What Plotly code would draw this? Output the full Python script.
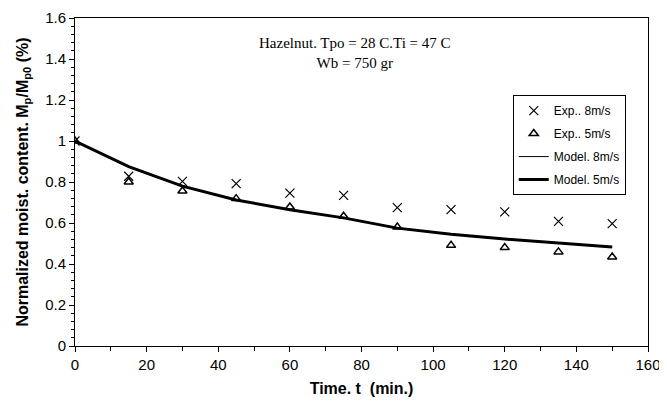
import plotly.graph_objects as go

t_exp = [0, 15, 30, 45, 60, 75, 90, 105, 120, 135, 150]
exp_8 = [1.0, 0.828, 0.803, 0.792, 0.746, 0.735, 0.675, 0.665, 0.654, 0.608, 0.597]
exp_5 = [1.0, 0.80, 0.756, 0.719, 0.678, 0.633, 0.58, 0.491, 0.48, 0.459, 0.434]

t_model = [0, 15, 30, 45, 60, 75, 90, 105, 120, 135, 150]
model_8 = [1.0, 0.872, 0.778, 0.712, 0.664, 0.626, 0.577, 0.545, 0.522, 0.503, 0.483]
model_5 = [1.0, 0.875, 0.78, 0.712, 0.665, 0.625, 0.575, 0.545, 0.522, 0.503, 0.483]

fig = go.Figure()
fig.add_trace(go.Scatter(x=t_exp, y=exp_8, mode="markers", name="Exp.. 8m/s",
                         legendgroup="a",
                         marker=dict(symbol="x-thin-open", size=9, color="black",
                                     line=dict(width=1.2, color="black"))))
fig.add_trace(go.Scatter(x=t_exp, y=exp_5, mode="markers", name="Exp.. 5m/s",
                         legendgroup="b",
                         marker=dict(symbol="triangle-up-open", size=8, color="black",
                                     line=dict(width=1.5, color="black"))))
fig.add_trace(go.Scatter(x=t_model, y=model_8, mode="lines", name="Model. 8m/s",
                         legendgroup="c",
                         line=dict(color="black", width=1)))
fig.add_trace(go.Scatter(x=t_model, y=model_5, mode="lines", name="Model. 5m/s",
                         legendgroup="d",
                         line=dict(color="black", width=3)))

fig.add_annotation(x=0.489, y=0.893, xref="paper", yref="paper",
                   xanchor="center", yanchor="middle",
                   text="Hazelnut. Tpo = 28 C.Ti = 47 C<br>Wb = 750 gr",
                   showarrow=False, align="center",
                   font=dict(family="Liberation Serif", size=15, color="black"))

axis_common = dict(showgrid=False, zeroline=False, showline=True, linecolor="black",
                   linewidth=1, mirror=True, ticks="outside", ticklen=5,
                   tickcolor="black", automargin=False,
                   tickfont=dict(family="Liberation Sans", size=15, color="black"))

fig.update_xaxes(range=[0, 160], dtick=20, tick0=0,
                 minor=dict(dtick=10, ticks="outside", ticklen=4, tickcolor="black"),
                 title=dict(text="<b>Time. t  (min.)</b>", standoff=10,
                            font=dict(family="Liberation Sans", size=16, color="black")),
                 **axis_common)
fig.update_yaxes(range=[0, 1.6], dtick=0.2, tick0=0, tickformat="~g",
                 minor=dict(dtick=0.04, ticks="outside", ticklen=3, tickcolor="black"),
                 title=dict(text="<b>Normalized moist. content. M<sub>p</sub>/M<sub>p0</sub> (%)</b>",
                            standoff=12,
                            font=dict(family="Liberation Sans", size=16, color="black")),
                 **axis_common)

fig.update_layout(width=659, height=398,
                  margin=dict(l=67, r=19, t=10, b=60),
                  plot_bgcolor="white", paper_bgcolor="white",
                  showlegend=True,
                  legend=dict(x=0.764, y=0.765, xanchor="left", yanchor="top",
                              bordercolor="black", borderwidth=1, bgcolor="white",
                              traceorder="grouped", tracegroupgap=4,
                              font=dict(family="Liberation Sans", size=12, color="black"),
                              itemwidth=30))

fig.write_html("out.html")
